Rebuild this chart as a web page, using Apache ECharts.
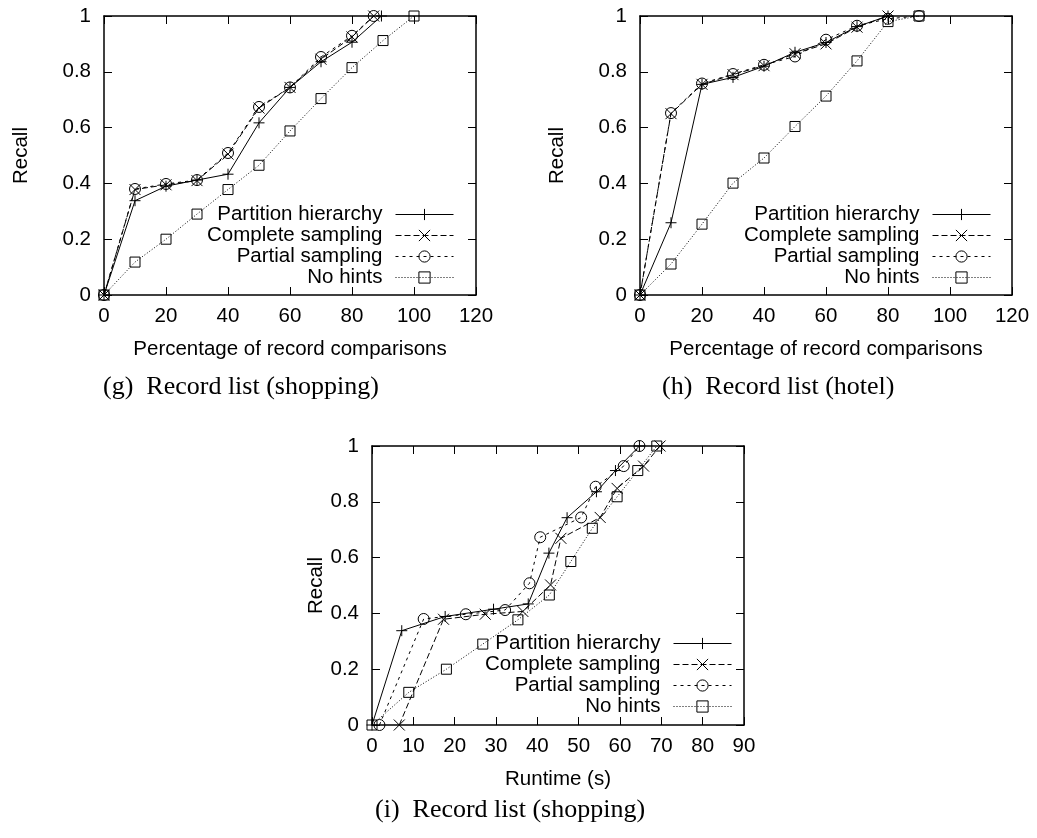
<!DOCTYPE html>
<html>
<head>
<meta charset="utf-8">
<script src="https://cdn.jsdelivr.net/npm/echarts@6/dist/echarts.min.js"></script>
<style>
html,body{margin:0;padding:0;background:#fff;}
#chart{width:1037px;height:838px;}
</style>
</head>
<body>
<div id="chart"></div>
<script>
// ---- data ----
const seriesNames = ['Partition hierarchy', 'Complete sampling', 'Partial sampling', 'No hints'];
const captions = ['(g)  Record list (shopping)', '(h)  Record list (hotel)', '(i)  Record list (shopping)'];
const xNames = ['Percentage of record comparisons', 'Percentage of record comparisons', 'Runtime (s)'];
const yName = 'Recall';

// (g) Record list (shopping): x = percentage of record comparisons
const gPartition = [[0,0],[10,0.338],[20,0.39],[30,0.412],[40,0.433],[50,0.617],[60,0.744],[70,0.836],[80,0.906],[89.5,1.0]];
const gComplete  = [[0,0],[10,0.378],[20,0.395],[30,0.41],[40,0.505],[50,0.67],[60,0.744],[70,0.845],[80,0.925],[87,1.0]];
const gPartial   = [[0,0],[10,0.38],[20,0.398],[30,0.412],[40,0.509],[50,0.674],[60,0.744],[70,0.853],[80,0.929],[87,1.0]];
const gNoHints   = [[0,0],[10,0.118],[20,0.2],[30,0.29],[40,0.378],[50,0.465],[60,0.588],[70,0.704],[80,0.815],[90,0.912],[100,1.0]];

// (h) Record list (hotel)
const hPartition = [[0,0],[10,0.259],[20,0.755],[30,0.78],[40,0.82],[50,0.87],[60,0.905],[70,0.962],[80,1.0]];
const hComplete  = [[0,0],[10,0.65],[20,0.755],[30,0.79],[40,0.822],[50,0.865],[60,0.9],[70,0.96],[80,1.0]];
const hPartial   = [[0,0],[10,0.652],[20,0.758],[30,0.792],[40,0.825],[50,0.855],[60,0.915],[70,0.965],[80,0.99],[90,1.0]];
const hNoHints   = [[0,0],[10,0.111],[20,0.254],[30,0.401],[40,0.491],[50,0.604],[60,0.713],[70,0.839],[80,0.98],[90,1.0]];

// (i) Record list (shopping): x = runtime (s)
const iPartition = [[0,0],[7.2,0.338],[17.7,0.389],[29.4,0.415],[37.8,0.434],[42.8,0.616],[47.2,0.743],[54.3,0.836],[58.9,0.912],[64.7,1.0]];
const iComplete  = [[6.6,0],[17.3,0.379],[27.4,0.397],[36.5,0.407],[43.2,0.502],[45.7,0.669],[55.2,0.744],[59.3,0.848],[65.7,0.928],[69.7,1.0]];
const iPartial   = [[1.8,0],[12.5,0.38],[22.7,0.397],[32.2,0.412],[38.1,0.508],[40.7,0.673],[50.6,0.744],[54.1,0.854],[60.9,0.928],[64.7,1.0]];
const iNoHints   = [[0,0],[8.9,0.117],[18,0.2],[26.8,0.29],[35.3,0.377],[42.9,0.466],[48.1,0.586],[53.3,0.705],[59.3,0.818],[64.3,0.912],[68.9,1.0]];

const xMax = [120, 120, 90];
const xInterval = [20, 20, 10];

// ---- styling ----
const SANS = 'Liberation Sans';
const SERIF = 'Liberation Serif';
const FS = 20.5;
const symbols = [
  'path://M5,0L5,10M0,5L10,5',
  'path://M0,0L10,10M10,0L0,10',
  'path://M0,5A5,5,0,1,1,10,5A5,5,0,1,1,0,5Z',
  'path://M0,0L10,0L10,10L0,10Z'
];
const symbolSizes = [11, 11, 11, 10];
const dashes = ['solid', [6,3], [3,4], [1,2]];

const grids = [
  {left:104, top:16, width:372, height:279},
  {left:640, top:16, width:372, height:279},
  {left:372, top:446, width:372, height:279}
];
const yNameGaps = [72, 72, 44];
const legendPos = [
  {right:583, top:204},
  {right:46, top:204},
  {right:305, top:633}
];
const captionPos = [
  {left:103, top:374},
  {left:662, top:374},
  {left:375, top:797}
];

const data = [
  [gPartition, gComplete, gPartial, gNoHints],
  [hPartition, hComplete, hPartial, hNoHints],
  [iPartition, iComplete, iPartial, iNoHints]
];

function axisLine() { return {show:true, onZero:false, lineStyle:{color:'#000', width:1.5}}; }
function axisTick() { return {show:true, inside:true, length:8, lineStyle:{color:'#000', width:1}}; }
const xAxes = [], yAxes = [], series = [], legends = [], titles = [];
for (let k = 0; k < 3; k++) {
  xAxes.push({type:'value', gridIndex:k, position:'bottom', min:0, max:xMax[k], interval:xInterval[k],
    splitLine:{show:false}, axisLine:axisLine(), axisTick:axisTick(),
    name:xNames[k], nameLocation:'middle', nameGap:44,
    nameTextStyle:{fontFamily:SANS, fontSize:FS, color:'#000'},
    axisLabel:{fontFamily:SANS, fontSize:FS, color:'#000', margin:11}});
  xAxes.push({type:'value', gridIndex:k, position:'top', min:0, max:xMax[k], interval:xInterval[k],
    splitLine:{show:false}, axisLine:axisLine(), axisTick:axisTick(), axisLabel:{show:false}});
  yAxes.push({type:'value', gridIndex:k, position:'left', min:0, max:1, interval:0.2,
    splitLine:{show:false}, axisLine:axisLine(), axisTick:axisTick(),
    name:yName, nameLocation:'middle', nameGap:yNameGaps[k],
    nameTextStyle:{fontFamily:SANS, fontSize:FS, color:'#000'},
    axisLabel:{fontFamily:SANS, fontSize:FS, color:'#000', margin:13}});
  yAxes.push({type:'value', gridIndex:k, position:'right', min:0, max:1, interval:0.2,
    splitLine:{show:false}, axisLine:axisLine(), axisTick:axisTick(), axisLabel:{show:false}});

  for (let s = 0; s < 4; s++) {
    series.push({
      type:'line', name:seriesNames[s], xAxisIndex:2*k, yAxisIndex:2*k,
      data:data[k][s], symbol:symbols[s], symbolSize:symbolSizes[s], showAllSymbol:true,
      lineStyle:{color:'#000', width:1, type:dashes[s]},
      itemStyle:{color:'rgba(255,255,255,0)', borderColor:'#000', borderWidth:1},
      emphasis:{disabled:true}, animation:false, z:2
    });
  }
  legends.push({
    orient:'vertical', align:'right', right:legendPos[k].right, top:legendPos[k].top,
    padding:0, itemGap:0, itemWidth:58, itemHeight:14, selectedMode:false,
    data:seriesNames,
    itemStyle:{borderWidth:1},
    lineStyle:{width:1},
    textStyle:{fontFamily:SANS, fontSize:FS, color:'#000', lineHeight:19, padding:[0,8,0,0]}
  });
  titles.push({
    text:captions[k], left:captionPos[k].left, top:captionPos[k].top, padding:0,
    textStyle:{fontFamily:SERIF, fontSize:26, fontWeight:'normal', color:'#000'}
  });
}

const chart = echarts.init(document.getElementById('chart'), null, {renderer:'canvas'});
chart.setOption({
  backgroundColor:'#fff',
  animation:false,
  title:titles,
  grid:grids,
  xAxis:xAxes,
  yAxis:yAxes,
  legend:legends,
  series:series
});
</script>
</body>
</html>
